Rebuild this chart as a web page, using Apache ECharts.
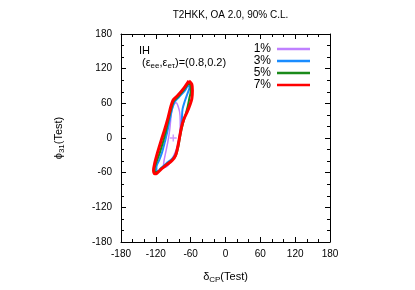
<!DOCTYPE html>
<html>
<head>
<meta charset="utf-8">
<script src="https://cdn.jsdelivr.net/npm/echarts@6/dist/echarts.min.js"></script>
<style>html,body{margin:0;padding:0;background:#fff}#c{width:415px;height:290px}</style>
</head>
<body>
<div id="c"></div>
<script>
// ---- data ----
var seriesNames = ['1%', '3%', '5%', '7%'];
var seriesColors = ['#bf80ff', '#1a8cff', '#1a8a1a', '#ff0000'];
var xTicks = [-180, -120, -60, 0, 60, 120, 180];
var yTicks = [-180, -120, -60, 0, 60, 120, 180];
var contour1 = [[-88,60],[-85,61],[-82,56],[-79,45],[-78,30],[-78,20],[-80,0],[-83,-15],[-88,-28],[-95,-42],[-102,-50],[-107,-51],[-106,-40],[-103,-25],[-99,-5],[-96,15],[-94,35],[-92,50],[-88,60]];
var contour3 = [[-64,93],[-62,88],[-65,78],[-70,64],[-74,50],[-75,35],[-76,20],[-79,4],[-82,-14],[-86,-28],[-92,-36],[-102,-44],[-111,-52],[-116,-57],[-119,-57],[-119,-50],[-114,-38],[-109,-24],[-104,-5],[-100,12],[-96,32],[-92,50],[-88,62],[-80,71],[-70,82],[-64,93]];
var contour5 = [[-63,96],[-60,90],[-60,80],[-62,70],[-65,55],[-69,40],[-74,22],[-78,4],[-81,-14],[-85,-29],[-91,-37],[-101,-45],[-111,-53],[-117,-59],[-121,-59],[-122,-53],[-119,-42],[-114,-28],[-108,-8],[-103,10],[-98,32],[-93,52],[-89,64],[-81,72],[-71,84],[-63,96]];
var contour7 = [[-63,99],[-58,93],[-57,82],[-58,68],[-61,58],[-66,45],[-72,32],[-76,18],[-79,2],[-82,-14],[-86,-30],[-92,-39],[-102,-47],[-112,-55],[-118,-61],[-122,-62],[-124,-56],[-122,-44],[-117,-25],[-111,-5],[-105,14],[-99,35],[-94,55],[-90,66],[-82,74],[-72,86],[-63,99]];
var contours = [contour1, contour3, contour5, contour7];
var lineWidths = [1.5, 2, 2, 3];
var truePoint = [[-90, 0]];

var FONT = 'Liberation Sans, Helvetica, Arial, sans-serif';
var chart = echarts.init(document.getElementById('c'), null, {renderer: 'canvas'});

function axisBase(pos, showLabel) {
  return {
    type: 'value', min: -180, max: 180, interval: 60, position: pos,
    axisLine: {show: true, onZero: false, lineStyle: {color: '#000', width: 1}},
    axisTick: {show: true, inside: true, length: 5, lineStyle: {color: '#000'}},
    minorTick: {show: true, splitNumber: 3, length: 3, lineStyle: {color: '#000'}},
    splitLine: {show: false},
    axisLabel: {show: showLabel, color: '#000', fontFamily: FONT, fontSize: 10, margin: 7},
  };
}

var xBottom = axisBase('bottom', true);
xBottom.name = '{a|δ}{s|CP}{a|(Test)}';
xBottom.nameLocation = 'middle';
xBottom.nameGap = 27;
xBottom.nameTextStyle = {rich: {
  a: {fontFamily: FONT, fontSize: 11, color: '#000'},
  s: {fontFamily: FONT, fontSize: 8, color: '#000', padding: [7, 0, 0, 0]}
}};
var xTop = axisBase('top', false);
var yLeft = axisBase('left', true);
yLeft.axisLabel.margin = 9;
yLeft.name = '{a|ϕ}{s|31}{a|(Test)}';
yLeft.nameLocation = 'middle';
yLeft.nameGap = 55;
yLeft.nameRotate = 90;
yLeft.nameTextStyle = {rich: {
  a: {fontFamily: FONT, fontSize: 11, color: '#000'},
  s: {fontFamily: FONT, fontSize: 8, color: '#000', padding: [7, 0, 0, 0]}
}};
var yRight = axisBase('right', false);

var series = contours.map(function (c, i) {
  return {
    name: seriesNames[i], type: 'line', xAxisIndex: 0, yAxisIndex: 0,
    data: c, showSymbol: false, smooth: 0.3,
    lineStyle: {color: seriesColors[i], width: lineWidths[i]},
    itemStyle: {color: seriesColors[i]}, z: 2 + i, animation: false
  };
});
series.push({
  type: 'scatter', data: truePoint, xAxisIndex: 0, yAxisIndex: 0,
  symbol: 'path://M-1,-5h2v4h4v2h-4v4h-2v-4h-4v-2h4z',
  symbolSize: 7, itemStyle: {color: '#bf80ff'}, z: 10, animation: false
});

chart.setOption({
  animation: false,
  backgroundColor: '#fff',
  title: {
    text: 'T2HKK, OA 2.0, 90% C.L.', left: 225.5, textAlign: 'center', top: 5,
    textStyle: {fontFamily: FONT, fontSize: 10, fontWeight: 'normal', color: '#000'}
  },
  grid: {left: 121, right: 85, top: 34, bottom: 48},
  xAxis: [xBottom, xTop],
  yAxis: [yLeft, yRight],
  legend: {
    data: seriesNames, orient: 'vertical', align: 'right', right: 100, top: 38,
    icon: 'rect', itemWidth: 33, itemHeight: 2.5, itemGap: 0,
    textStyle: {fontFamily: FONT, fontSize: 12, color: '#000', lineHeight: 12, padding: [0, 1, 0, 0]},
    selectedMode: false
  },
  graphic: [
    {type: 'text', left: 139, top: 45, style: {text: 'IH', font: '11px ' + FONT, fill: '#000'}},
    {type: 'text', left: 142, top: 57, style: {
      text: '{a|(ε}{s|ee}{a|,ε}{s|eτ}{a|)=(0.8,0.2)}',
      rich: {
        a: {fontFamily: FONT, fontSize: 11, fill: '#000'},
        s: {fontFamily: FONT, fontSize: 8, fill: '#000', padding: [6, 0, 0, 0]}
      }
    }}
  ],
  series: series
});
</script>
</body>
</html>
